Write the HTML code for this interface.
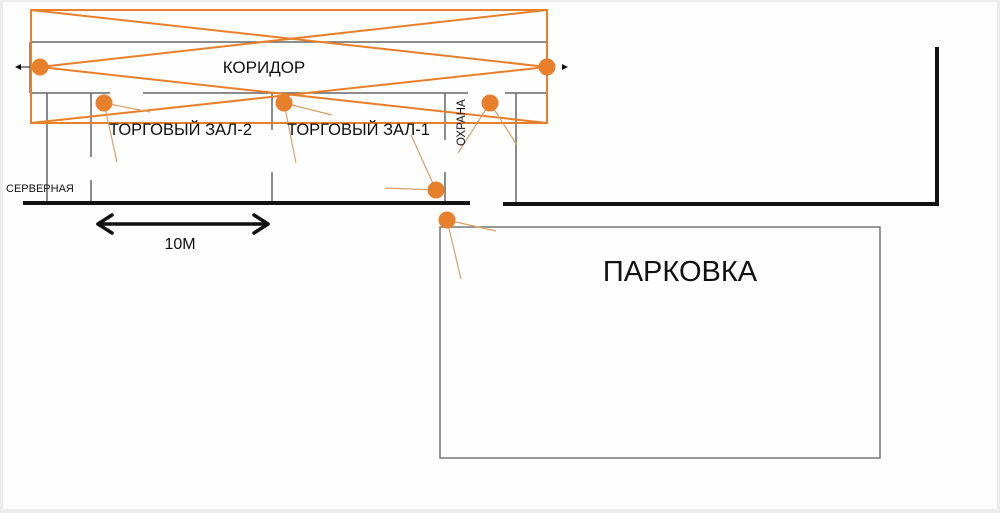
<!DOCTYPE html>
<html><head><meta charset="utf-8"><style>
html,body{margin:0;padding:0;background:#ececec;}
svg{display:block;}
text{font-family:"Liberation Sans",sans-serif;fill:#111;}
</style></head><body>
<svg width="1000" height="513" viewBox="0 0 1000 513" xmlns="http://www.w3.org/2000/svg">
<rect x="3" y="2" width="994" height="507" fill="#fefefe"/>
<g stroke="#666" stroke-width="1.5" fill="none">
<line x1="30" y1="42" x2="547" y2="42"/>
<line x1="30" y1="93" x2="110" y2="93"/>
<line x1="143" y1="93" x2="468" y2="93"/>
<line x1="505" y1="93" x2="547" y2="93"/>
<line x1="30" y1="42" x2="30" y2="93"/>
<line x1="47" y1="93" x2="47" y2="203"/>
<line x1="91" y1="93" x2="91" y2="157"/><line x1="91" y1="180" x2="91" y2="203"/>
<line x1="272" y1="93" x2="272" y2="130"/><line x1="272" y1="172" x2="272" y2="203"/>
<line x1="445" y1="93" x2="445" y2="140"/><line x1="445" y1="172" x2="445" y2="203"/>
<line x1="516" y1="93" x2="516" y2="203"/>
<rect x="440" y="227" width="440" height="231" stroke="#777"/>
</g>
<g stroke="#111" stroke-width="4" fill="none">
<line x1="23" y1="203" x2="470" y2="203"/>
<polyline points="503,204 937,204 937,47"/>
</g>
<g stroke="#e87f2a" stroke-width="2" fill="none">
<rect x="31" y="10" width="516" height="113"/>
<line x1="31" y1="10" x2="547" y2="67"/>
<line x1="547" y1="10" x2="40" y2="67"/>
<line x1="40" y1="67" x2="547" y2="123"/>
<line x1="547" y1="67" x2="31" y2="123"/>
</g>
<g stroke="#d9a065" stroke-width="1.2" fill="none">
<line x1="104" y1="103" x2="150" y2="112"/><line x1="104" y1="103" x2="117" y2="162"/>
<line x1="284" y1="103" x2="332" y2="115"/><line x1="284" y1="103" x2="296" y2="163"/>
<line x1="436" y1="190" x2="385" y2="188"/><line x1="436" y1="190" x2="411" y2="135"/>
<line x1="490" y1="103" x2="458" y2="153"/><line x1="490" y1="103" x2="517" y2="145"/>
<line x1="447" y1="220" x2="496" y2="231"/><line x1="447" y1="220" x2="461" y2="279"/>
</g>
<g fill="#111">
<line x1="18" y1="67" x2="30" y2="67" stroke="#111" stroke-width="1"/>
<polygon points="15,67 21,64 21,70"/>
<polygon points="568,67 562,64 562,70"/>
</g>
<g stroke="#111" stroke-width="3.5" fill="none" stroke-linecap="round" stroke-linejoin="round">
<line x1="98" y1="224" x2="268" y2="224"/>
<polyline points="112,215 98,224 112,233"/>
<polyline points="254,215 268,224 254,233"/>
</g>
<g fill="#e87f2a">
<circle cx="40" cy="67" r="8.5"/><circle cx="547" cy="67" r="8.5"/>
<circle cx="104" cy="103" r="8.5"/><circle cx="284" cy="103" r="8.5"/>
<circle cx="490" cy="103" r="8.5"/><circle cx="436" cy="190" r="8.5"/>
<circle cx="447" cy="220" r="8.5"/>
</g>
<text x="264" y="73" font-size="17" text-anchor="middle">КОРИДОР</text>
<text x="109" y="135" font-size="16.5">ТОРГОВЫЙ ЗАЛ-2</text>
<text x="287" y="135" font-size="16.5">ТОРГОВЫЙ ЗАЛ-1</text>
<text x="6" y="192" font-size="11">СЕРВЕРНАЯ</text>
<text transform="translate(465,146) rotate(-90)" font-size="11.5">ОХРАНА</text>
<text x="180" y="249" font-size="16" text-anchor="middle">10M</text>
<text x="680" y="281" font-size="29" text-anchor="middle">ПАРКОВКА</text>
</svg>
</body></html>
